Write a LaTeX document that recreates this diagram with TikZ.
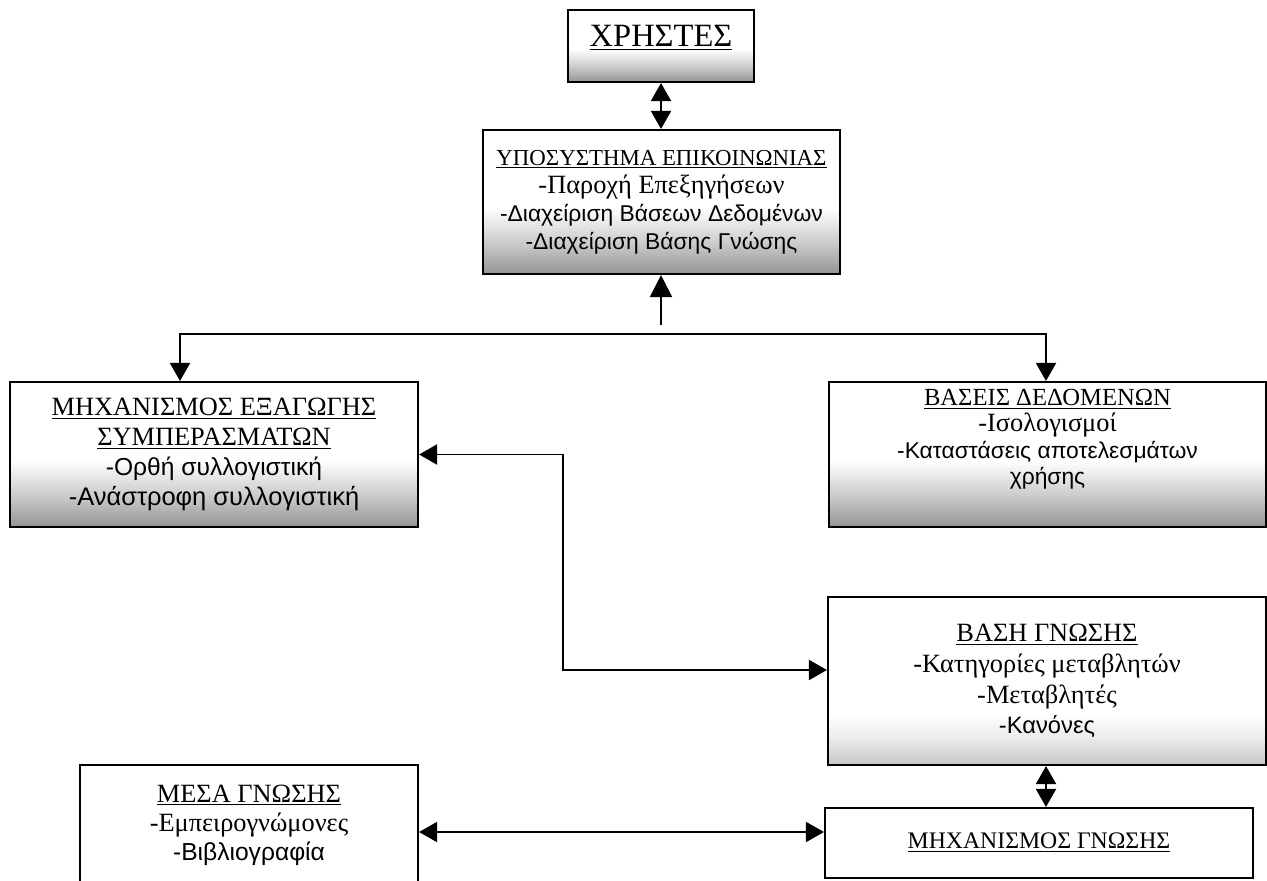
\documentclass[tikz,border=0pt]{standalone}
\usepackage{fontspec}
\setmainfont{Liberation Serif}
\newfontfamily\grsans{Liberation Sans}
\usepackage{tikz}
\usetikzlibrary{arrows.meta}
\usetikzlibrary{shapes}
\pgfdeclareverticalshading{grain}{100bp}{color(0bp)=(black!42); color(25bp)=(black!42); color(36bp)=(black!20); color(48bp)=(white); color(100bp)=(white)}
\pgfdeclareverticalshading{grainlite}{100bp}{color(0bp)=(black!22); color(25bp)=(black!22); color(33bp)=(black!8); color(40bp)=(white); color(100bp)=(white)}
\newcommand{\hd}[2][15]{{\fontsize{#1}{17}\selectfont\underline{#2}}}
\newcommand{\sline}[2][13.5]{{\grsans\fontsize{#1}{17}\selectfont #2}}

\begin{document}
\begin{tikzpicture}[scale = 1,
  box/.style={rectangle, draw, line width=1.2pt, align=center, inner sep=0pt, font=\fontsize{15}{17}\selectfont},
  tip/.style={line width=1.1pt, {Triangle[width=4mm,length=3.6mm]}-{Triangle[width=4mm,length=3.6mm]}},
  uptip/.style={line width=1.1pt, -{Triangle[width=4.4mm,length=4.4mm]}}]

\useasboundingbox (0,0) rectangle (25.34,-17.6);

% boxes
\node[box, shading=grain, minimum width=3.72cm, minimum height=1.44cm] (users) at (13.22,-0.92)
{\hd[18.5]{ΧΡΗΣΤΕΣ}\\[-6pt]\mbox{}};
\node[box, shading=grain, minimum width=7.14cm, minimum height=2.88cm, font=\fontsize{15}{16}\selectfont] (comm) at (13.23,-4.04)
{\hd[13]{ΥΠΟΣΥΣΤΗΜΑ ΕΠΙΚΟΙΝΩΝΙΑΣ}\\ -Παροχή Επεξηγήσεων\\ \sline[13]{-Διαχείριση Βάσεων Δεδομένων}\\ \sline[13]{-Διαχείριση Βάσης Γνώσης}};
\node[box, shading=grain, minimum width=8.16cm, minimum height=2.9cm] (infer) at (4.28,-9.09)
{\hd{ΜΗΧΑΝΙΣΜΟΣ ΕΞΑΓΩΓΗΣ}\\ \hd{ΣΥΜΠΕΡΑΣΜΑΤΩΝ}\\ \sline[14]{-Ορθή συλλογιστική}\\ \sline[14.5]{-Ανάστροφη συλλογιστική}};
\node[box, shading=grain, minimum width=8.74cm, minimum height=2.9cm, font=\fontsize{15}{15}\selectfont] (db) at (20.95,-9.09)
{\hd[14]{ΒΑΣΕΙΣ ΔΕΔΟΜΕΝΩΝ}\\ -Ισολογισμοί\\ \sline[13]{-Καταστάσεις αποτελεσμάτων}\\ \sline[13]{χρήσης}\\[5pt]\mbox{}};
\node[box, shading=grainlite, minimum width=8.76cm, minimum height=3.36cm, font=\fontsize{15}{17.5}\selectfont] (kb) at (20.94,-13.62)
{\hd{ΒΑΣΗ ΓΝΩΣΗΣ}\\ -Κατηγορίες μεταβλητών\\ -Μεταβλητές\\ \sline[13.5]{-Κανόνες}};
\node[box, minimum width=8.56cm, minimum height=1.4cm] (mech) at (20.78,-16.86)
{\hd[13.5]{ΜΗΧΑΝΙΣΜΟΣ ΓΝΩΣΗΣ}};
\node[box, minimum width=6.76cm, minimum height=2.4cm, font=\fontsize{15}{16.5}\selectfont] (media) at (4.98,-16.5)
{\hd{ΜΕΣΑ ΓΝΩΣΗΣ}\\ -Εμπειρογνώμονες\\ \sline[14]{-Βιβλιογραφία}};

% connectors
\coordinate (feed) at (13.22,-6.5);
\coordinate (bendL) at (3.6,-6.68);
\coordinate (bendR) at (20.92,-6.68);
\coordinate (elbow) at (11.26,-13.4);

\draw[tip] (users) -- (users |- comm.north);
\draw[uptip] (feed) -- (feed |- comm.south);
\draw[tip] (infer.north -| bendL) -- (bendL) -- (bendR) -- (db.north -| bendR);
\draw[tip] (infer.east) -| (elbow) -- (elbow -| kb.west);
\draw[tip] (kb.south -| bendR) -- (mech.north -| bendR);
\draw[tip] ([yshift=-1.4mm]media.east) -- ([yshift=2.2mm]mech.west);
\end{tikzpicture}
\end{document}
